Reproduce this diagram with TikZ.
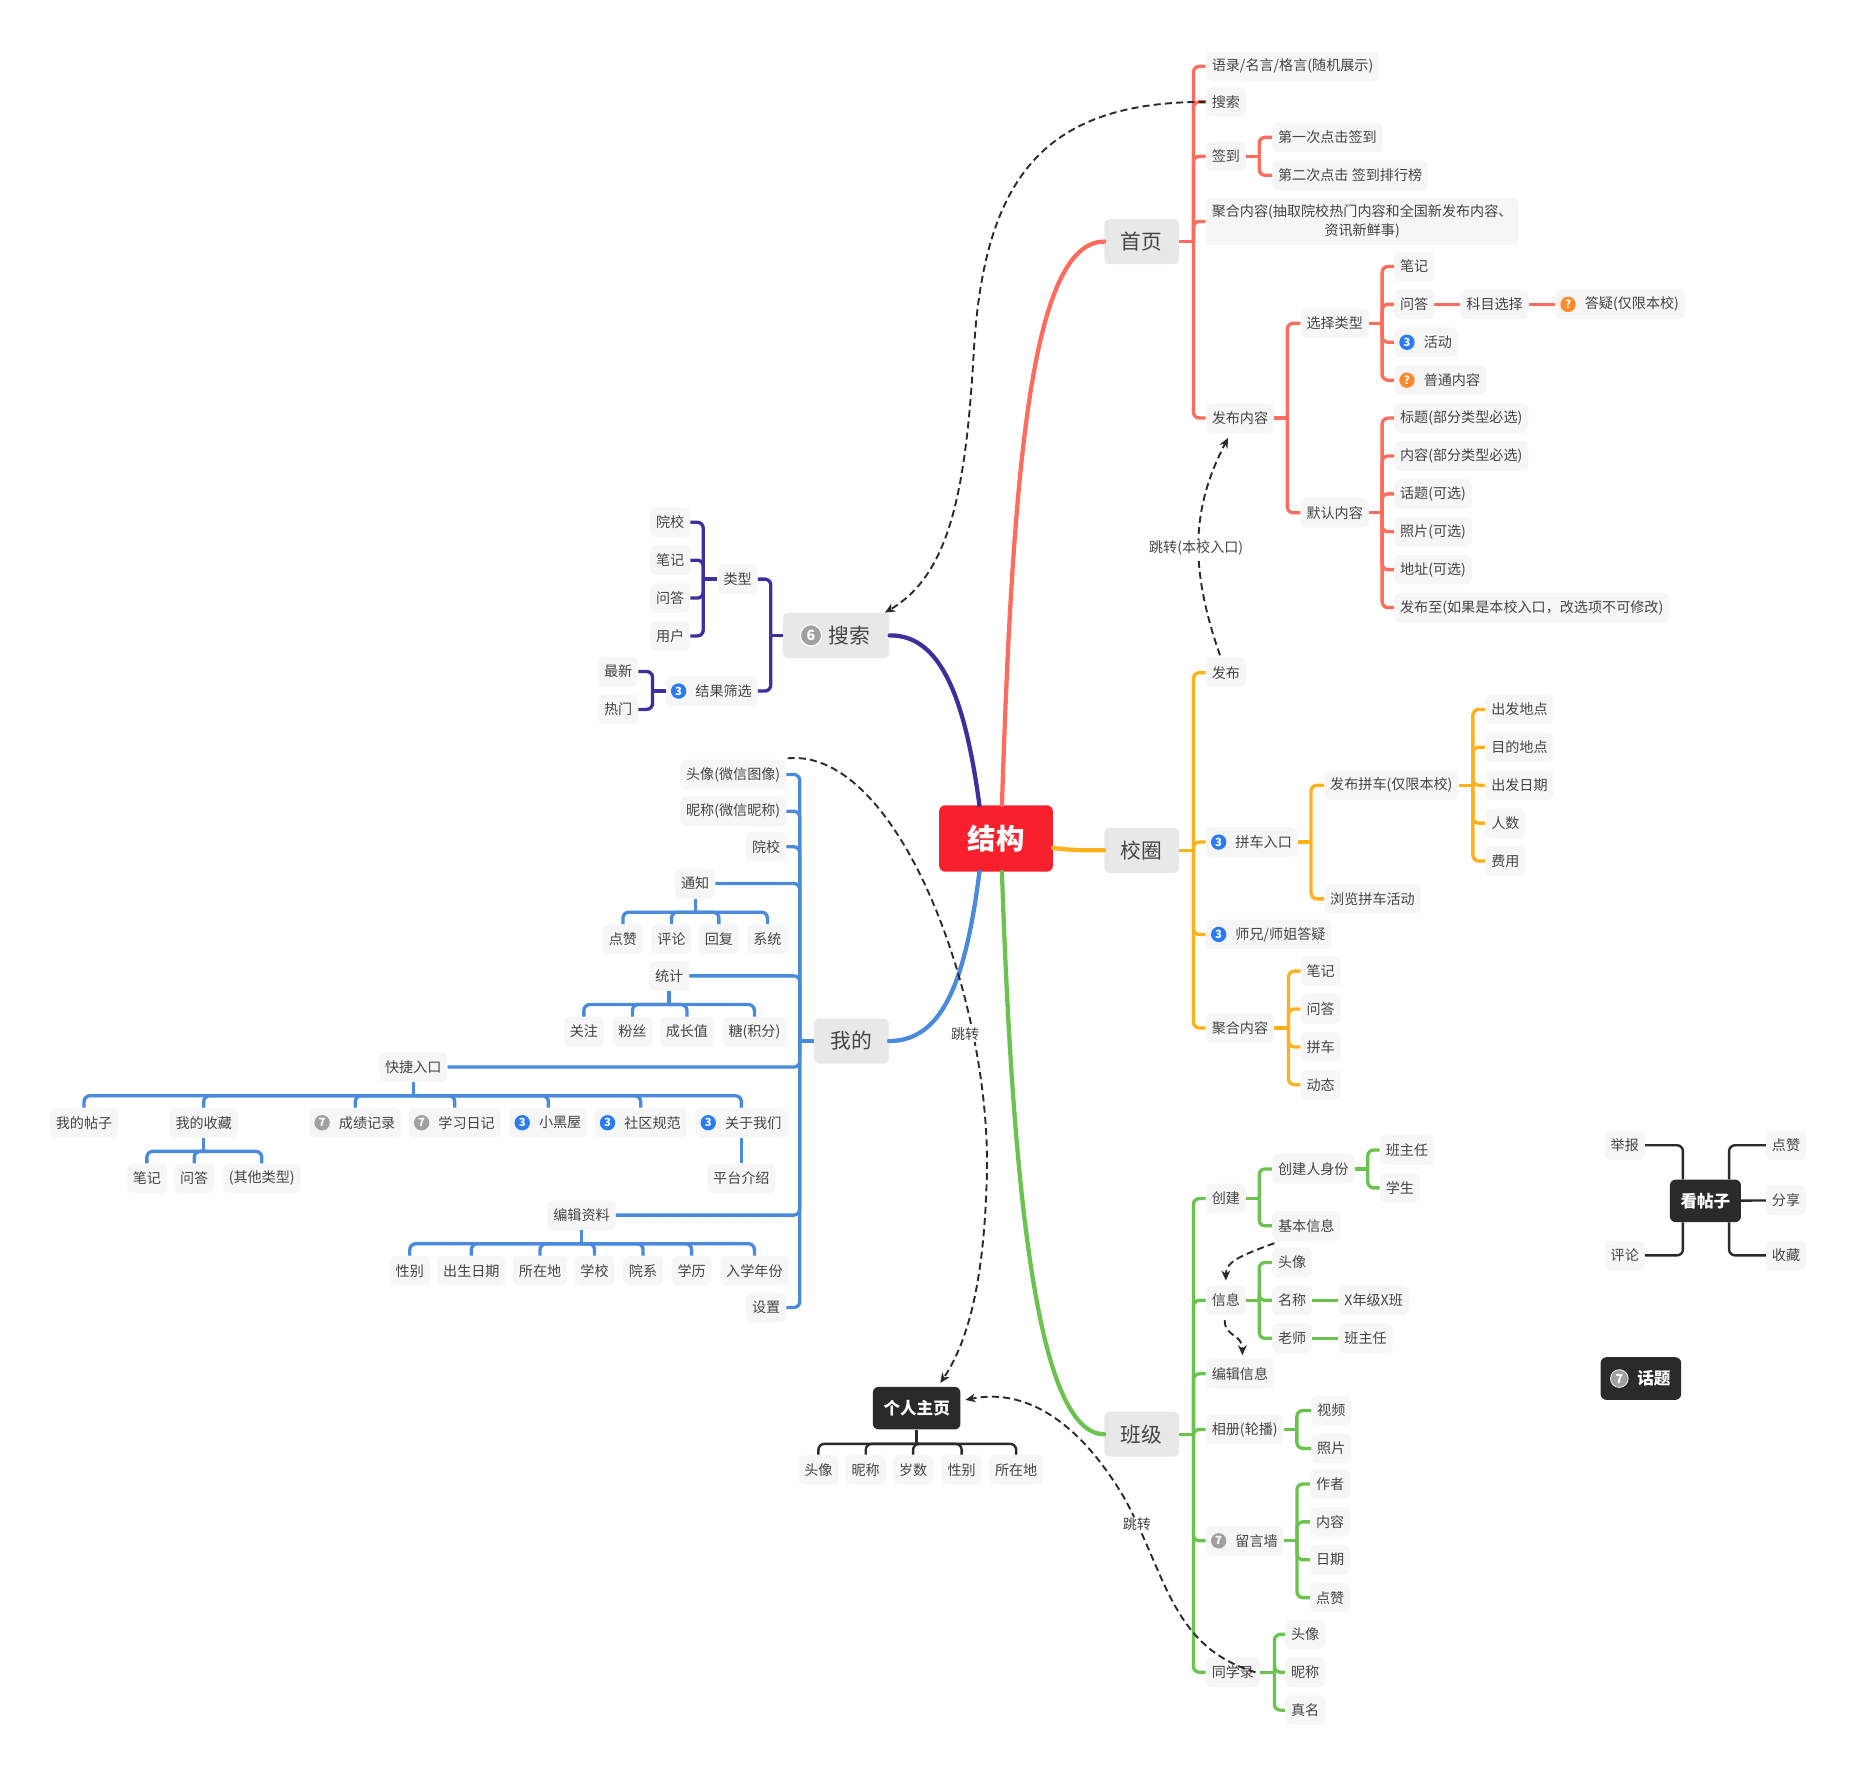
\documentclass[tikz,border=0pt]{standalone}
\usepackage{fontspec}
\setmainfont{Noto Sans CJK SC}
\usetikzlibrary{calc,arrows.meta}
\definecolor{cred}{HTML}{FF6B5C}
\definecolor{corg}{HTML}{FFB11B}
\definecolor{cgrn}{HTML}{6CC24F}
\definecolor{cblu}{HTML}{4A8ADB}
\definecolor{cpur}{HTML}{3F2E9B}
\definecolor{cblk}{HTML}{2A2A2A}
\definecolor{ctxt}{HTML}{444444}
\definecolor{croot}{HTML}{F9202E}
\definecolor{cib}{HTML}{2A7BF6}
\definecolor{cio}{HTML}{FF8A2B}
\definecolor{cig}{HTML}{A0A0A0}
\tikzset{
 leaf/.style={fill=black!3.5,rounded corners=5pt,inner xsep=5pt,inner ysep=0pt,minimum height=25pt,text=ctxt,font=\fontsize{11.9}{16}\selectfont,align=center},
 lw/.style={leaf,anchor=west},
 le/.style={leaf,anchor=east},
 lc/.style={leaf},
 main/.style={fill=black!9,rounded corners=4pt,minimum height=38pt,minimum width=63pt,inner sep=0pt,text=ctxt,font=\fontsize{17.5}{20}\selectfont},
 dark/.style={fill=cblk,rounded corners=5pt,minimum height=36pt,inner xsep=9pt,inner ysep=0pt,text=white,font=\fontsize{14}{16}\selectfont\bfseries},
 icon/.style={circle,inner sep=0pt,minimum size=13pt,text=white,font=\fontsize{9.5}{10}\selectfont\bfseries},
 icb/.style={icon,fill=cib},
 ico/.style={icon,fill=cio},
 icg/.style={icon,fill=cig},
 twig/.style={rounded corners=5pt},
 jump/.style={draw=cblk,line width=1.6pt,dash pattern=on 6pt off 3.5pt,-{Stealth[length=8.5pt,width=7.5pt]}},
 lab/.style={fill=white,inner sep=1pt,text=ctxt,font=\fontsize{11.9}{14}\selectfont},
 curve/.style={line width=3.6pt,line cap=round},
}
\newcommand\treeR[3]{\draw (#1.east) -- ++(#2,0) coordinate (t#1);\foreach \ch in {#3}{\draw[twig] (t#1) |- (\ch.west);}}
\newcommand\treeL[3]{\draw (#1.west) -- ++(-#2,0) coordinate (t#1);\foreach \ch in {#3}{\draw[twig] (t#1) |- (\ch.east);}}
\newcommand\treeD[3]{\draw (#1.south) -- ++(0,#2) coordinate (t#1);\foreach \ch in {#3}{\draw[twig] (t#1) -| (\ch.north);}}
\newcommand\ico[3]{\node[#2] (ic#1) at ($(#1.west)+(11,0)$) {#3};}
\newcommand\ind{\hspace{20pt}}
\begin{document}
\begin{tikzpicture}[x=1pt,y=-1pt]
\useasboundingbox (0,-1) rectangle (1568,1497);
% central and main nodes
\node[fill=croot,rounded corners=5pt,minimum width=96pt,minimum height=56pt,inner sep=0pt,text=white,font=\fontsize{24}{28}\selectfont\bfseries] (root) at (841,707) {结构};
\node[main] (h) at (964,203) {首页};
\node[main] (x) at (964,717) {校圈};
\node[main] (b) at (964,1210) {班级};
\node[main,minimum width=90pt] (s) at (706,535.5) {\hspace{22pt}搜索};
\node[main] (m) at (719,878) {我的};
\node[icg,minimum size=18pt,font=\fontsize{12}{13}\selectfont\bfseries,draw=white,line width=1pt] (ics) at ($(s.west)+(24,0)$) {6};
% home
\node[lw] (h1) at (1018,55) {语录/名言/格言(随机展示)};
\node[lw] (h2) at (1018,85) {搜索};
\node[lw] (h3) at (1018,131) {签到};
\node[lw] (h31) at (1074,115) {第一次点击签到};
\node[lw] (h32) at (1074,147) {第二次点击 签到排行榜};
\node[lw,minimum height=40pt] (h4) at (1018,186) {聚合内容(抽取院校热门内容和全国新发布内容、\\资讯新鲜事)};
\node[lw] (h5) at (1018,352) {发布内容};
\node[lw] (h51) at (1098,272) {选择类型};
\node[lw] (h52) at (1098,432) {默认内容};
\node[lw] (a1) at (1177,224) {笔记};
\node[lw] (a2) at (1177,256) {问答};
\node[lw] (a21) at (1233,256) {科目选择};
\node[lw] (a22) at (1313,256) {\ind 答疑(仅限本校)};
\ico{a22}{ico}{?}
\node[lw] (a3) at (1177,288) {\ind 活动};
\ico{a3}{icb}{3}
\node[lw] (a4) at (1177,320) {\ind 普通内容};
\ico{a4}{ico}{?}
\node[lw] (c1) at (1177,352) {标题(部分类型必选)};
\node[lw] (c2) at (1177,384) {内容(部分类型必选)};
\node[lw] (c3) at (1177,416) {话题(可选)};
\node[lw] (c4) at (1177,448) {照片(可选)};
\node[lw] (c5) at (1177,480) {地址(可选)};
\node[lw] (c6) at (1177,512) {发布至(如果是本校入口，改选项不可修改)};
% campus
\node[lw] (x1) at (1018,567) {发布};
\node[lw] (x2) at (1018,710) {\ind 拼车入口};
\ico{x2}{icb}{3}
\node[lw] (x21) at (1118,662) {发布拼车(仅限本校)};
\node[lw] (x22) at (1118,758) {浏览拼车活动};
\node[lw] (p1) at (1254,598) {出发地点};
\node[lw] (p2) at (1254,630) {目的地点};
\node[lw] (p3) at (1254,662) {出发日期};
\node[lw] (p4) at (1254,694) {人数};
\node[lw] (p5) at (1254,726) {费用};
\node[lw] (x3) at (1018,788) {\ind 师兄/师姐答疑};
\ico{x3}{icb}{3}
\node[lw] (x4) at (1018,867) {聚合内容};
\node[lw] (q1) at (1098,819) {笔记};
\node[lw] (q2) at (1098,851) {问答};
\node[lw] (q3) at (1098,883) {拼车};
\node[lw] (q4) at (1098,915) {动态};
% class
\node[lw] (b1) at (1018,1011) {创建};
\node[lw] (b11) at (1074,986) {创建人身份};
\node[lw] (b111) at (1165,970) {班主任};
\node[lw] (b112) at (1165,1002) {学生};
\node[lw] (b12) at (1074,1034) {基本信息};
\node[lw] (b2) at (1018,1097) {信息};
\node[lw] (b21) at (1074,1065) {头像};
\node[lw] (b22) at (1074,1097) {名称};
\node[lw] (b221) at (1130,1097) {X年级X班};
\node[lw] (b23) at (1074,1129) {老师};
\node[lw] (b231) at (1130,1129) {班主任};
\node[lw] (b3) at (1018,1159) {编辑信息};
\node[lw] (b4) at (1018,1206) {相册(轮播)};
\node[lw] (b41) at (1107,1190) {视频};
\node[lw] (b42) at (1107,1222) {照片};
\node[lw] (b5) at (1018,1300) {\ind 留言墙};
\ico{b5}{icg}{7}
\node[lw] (b51) at (1106,1252) {作者};
\node[lw] (b52) at (1106,1284) {内容};
\node[lw] (b53) at (1106,1316) {日期};
\node[lw] (b54) at (1106,1348) {点赞};
\node[lw] (b6) at (1018,1411) {同学录};
\node[lw] (b61) at (1085,1379) {头像};
\node[lw] (b62) at (1085,1411) {昵称};
\node[lw] (b63) at (1085,1443) {真名};
% search
\node[le] (s1) at (640,488) {类型};
\node[le] (s11) at (583,440) {院校};
\node[le] (s12) at (583,472) {笔记};
\node[le] (s13) at (583,504) {问答};
\node[le] (s14) at (583,536) {用户};
\node[le] (s2) at (640,582.5) {\ind 结果筛选};
\ico{s2}{icb}{3}
\node[le] (s21) at (539,566) {最新};
\node[le] (s22) at (539,598) {热门};
% mine
\node[le] (m1) at (664,653) {头像(微信图像)};
\node[le] (m2) at (664,684) {昵称(微信昵称)};
\node[le] (m3) at (664,714) {院校};
\node[lc] (m4) at (587,745) {通知};
\node[lc] (m41) at (526,792) {点赞};
\node[lc] (m42) at (567,792) {评论};
\node[lc] (m43) at (607,792) {回复};
\node[lc] (m44) at (648,792) {系统};
\node[lc] (m5) at (565,823) {统计};
\node[lc] (m51) at (493,870) {关注};
\node[lc] (m52) at (534,870) {粉丝};
\node[lc] (m53) at (580,870) {成长值};
\node[lc] (m54) at (637,870) {糖(积分)};
\node[lc] (m6) at (349,900) {快捷入口};
\node[lc] (m61) at (71,947) {我的帖子};
\node[lc] (m62) at (172,947) {我的收藏};
\node[lc] (m63) at (300,947) {\ind 成绩记录};
\ico{m63}{icg}{7}
\node[lc] (m64) at (384,947) {\ind 学习日记};
\ico{m64}{icg}{7}
\node[lc] (m65) at (463,947) {\ind 小黑屋};
\ico{m65}{icb}{3}
\node[lc] (m66) at (541,947) {\ind 社区规范};
\ico{m66}{icb}{3}
\node[lc] (m67) at (626,947) {\ind 关于我们};
\ico{m67}{icb}{3}
\node[lc] (m621) at (124,994) {笔记};
\node[lc] (m622) at (164,994) {问答};
\node[lc] (m623) at (221,994) {(其他类型)};
\node[lc] (m671) at (626,994) {平台介绍};
\node[lc] (m7) at (491,1025) {编辑资料};
\node[lc] (m71) at (346,1072) {性别};
\node[lc] (m72) at (398,1072) {出生日期};
\node[lc] (m73) at (456,1072) {所在地};
\node[lc] (m74) at (502,1072) {学校};
\node[lc] (m75) at (543,1072) {院系};
\node[lc] (m76) at (584,1072) {学历};
\node[lc] (m77) at (637,1072) {入学年份};
\node[le] (m8) at (664,1103) {设置};
% personal page
\node[dark] (u) at (774,1188) {个人主页};
\node[lc] (u1) at (691,1240) {头像};
\node[lc] (u2) at (731,1240) {昵称};
\node[lc] (u3) at (771,1240) {岁数};
\node[lc] (u4) at (812,1240) {性别};
\node[lc] (u5) at (858,1240) {所在地};
% view post
\node[dark] (v) at (1440,1013) {看帖子};
\node[lw] (v1) at (1491,966) {点赞};
\node[lw] (v2) at (1491,1012.5) {分享};
\node[lw] (v3) at (1491,1059) {收藏};
\node[le] (v4) at (1389,966) {举报};
\node[le] (v5) at (1389,1059) {评论};
% topic
\node[dark] (tp) at (1385.5,1163) {\hspace{22pt}话题};
\node[icg,minimum size=15pt,font=\fontsize{10.5}{11}\selectfont\bfseries,draw=white,line width=.6pt] (ictp) at ($(tp.west)+(16,0)$) {7};
% main curves
\draw[curve,cred] ($(root.north)+(5,0)$) .. controls (855,400) and (870,203) .. (h.west);
\draw[curve,corg] ($(root.east)+(0,8)$) .. controls (905,717) and (915,717) .. (x.west);
\draw[curve,cgrn] ($(root.south)+(5,0)$) .. controls (855,1000) and (875,1210) .. (b.west);
\draw[curve,cpur] ($(root.north)+(-14,0)$) .. controls (815,590) and (795,535) .. (s.east);
\draw[curve,cblu] ($(root.south)+(-14,0)$) .. controls (815,830) and (795,878) .. (m.east);
% branches
\begin{scope}[cred,line width=2.8pt]
\treeR{h}{12}{h1,h2,h3,h4,h5}
\treeR{h3}{11}{h31,h32}
\treeR{h5}{11}{h51,h52}
\treeR{h51}{11}{a1,a2,a3,a4}
\treeR{h52}{11}{c1,c2,c3,c4,c5,c6}
\draw (a2) -- (a21);
\draw (a21) -- (a22);
\end{scope}
\begin{scope}[corg,line width=2.8pt]
\treeR{x}{12}{x1,x2,x3,x4}
\treeR{x2}{11}{x21,x22}
\treeR{x21}{12}{p1,p2,p3,p4,p5}
\treeR{x4}{12}{q1,q2,q3,q4}
\end{scope}
\begin{scope}[cgrn,line width=2.8pt]
\treeR{b}{12}{b1,b2,b3,b4,b5,b6}
\treeR{b1}{11}{b11,b12}
\treeR{b11}{11}{b111,b112}
\treeR{b2}{11}{b21,b22,b23}
\draw (b22) -- (b221);
\draw (b23) -- (b231);
\treeR{b4}{11}{b41,b42}
\treeR{b5}{11}{b51,b52,b53,b54}
\treeR{b6}{12}{b61,b62,b63}
\end{scope}
\begin{scope}[cpur,line width=2.8pt]
\treeL{s}{10}{s1,s2}
\treeL{s1}{12}{s11,s12,s13,s14}
\treeL{s2}{11}{s21,s22}
\end{scope}
\begin{scope}[cblu,line width=2.8pt]
\treeL{m}{12}{m1,m2,m3,m4,m5,m6,m7,m8}
\treeD{m4}{11.5}{m41,m42,m43,m44}
\treeD{m5}{11.5}{m51,m52,m53,m54}
\treeD{m6}{11.5}{m61,m62,m63,m64,m65,m66,m67}
\treeD{m62}{11.5}{m621,m622,m623}
\treeD{m67}{11.5}{m671}
\treeD{m7}{11.5}{m71,m72,m73,m74,m75,m76,m77}
\end{scope}
\begin{scope}[cblk,line width=2pt]
\treeD{u}{12}{u1,u2,u3,u4,u5}
\draw[twig] ($(v.north)+(20,0)$) |- (v1.west);
\draw (v) -- (v2);
\draw[twig] ($(v.south)+(20,0)$) |- (v3.west);
\draw[twig] ($(v.north)+(-19,0)$) |- (v4.east);
\draw[twig] ($(v.south)+(-19,0)$) |- (v5.east);
\end{scope}
% jumps
\draw[jump] (h2.west) .. controls (880,85) and (830,150) .. (822,300) .. controls (815,420) and (800,485) .. ($(s.north east)+(-4,0)$);
\draw[jump] ($(x1.north)+(-5,-2)$) .. controls (1005,480) and (1005,430) .. ($(h5.south)+(-10,4)$);
\node[lab] (l1) at (1010,462) {跳转(本校入口)};
\draw[jump] ($(m1.north east)+(1,-1)$) .. controls (760,630) and (840,850) .. (833,1000) .. controls (830,1090) and (815,1135) .. ($(u.north)+(20,-3)$);
\node[lab] (l2) at (815,872) {跳转};
\draw[jump] ($(b6.east)+(-4,0)$) .. controls (990,1390) and (985,1330) .. (950,1265) .. controls (915,1205) and (870,1170) .. ($(u.east)+(4,-7)$);
\node[lab] (l3) at (960,1286) {跳转};
\draw[jump] ($(b12.south west)+(2,2)$) .. controls (1045,1060) and (1035,1065) .. ($(b2.north)+(0,-4)$);
\draw[jump] ($(b2.south)+(-1,4)$) .. controls (1034,1128) and (1049,1125) .. ($(b3.north)+(2,-3)$);
\end{tikzpicture}
\end{document}
